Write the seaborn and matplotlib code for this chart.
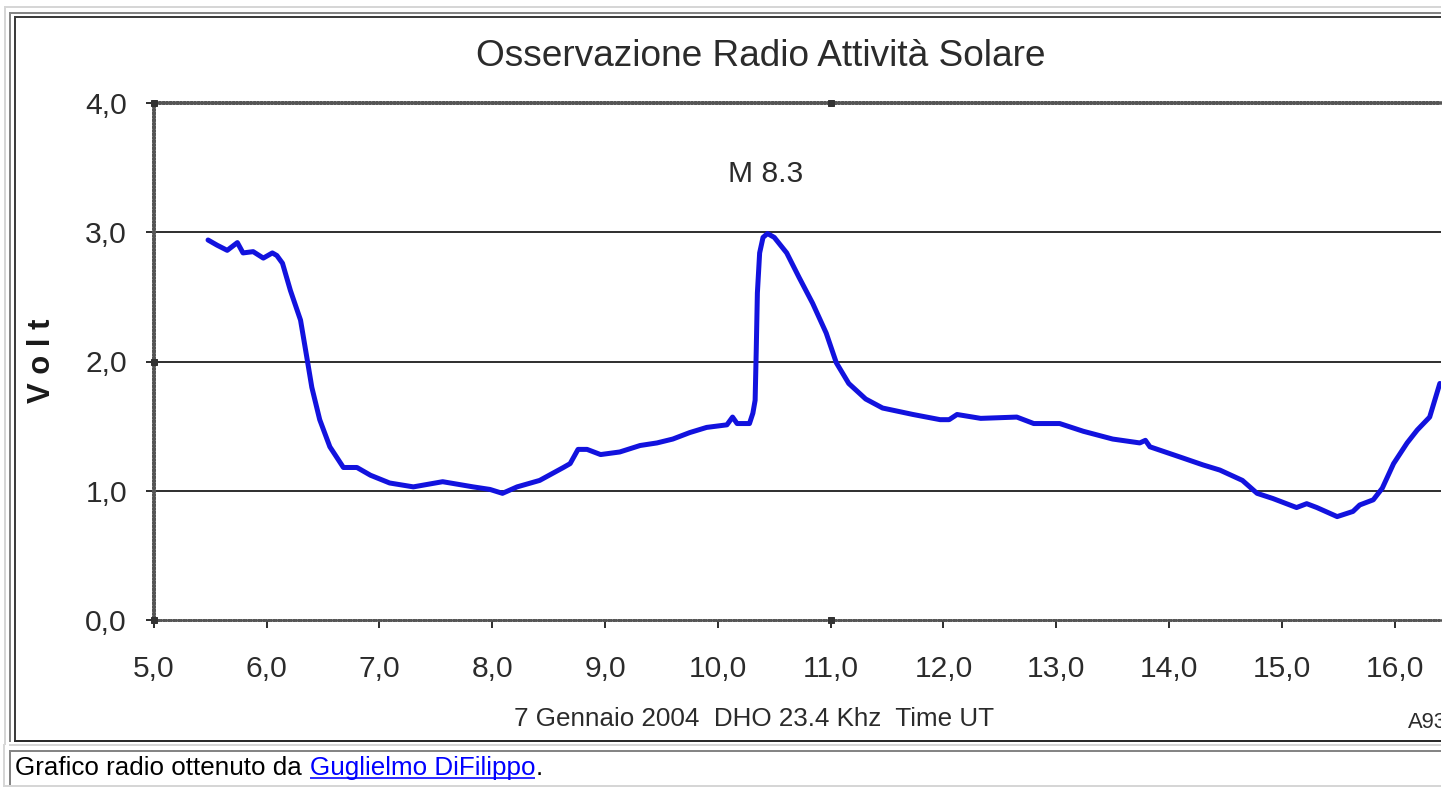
import matplotlib
matplotlib.use("Agg")
import pandas as pd
import seaborn as sns
from matplotlib import pyplot as plt
from matplotlib.ticker import FuncFormatter

# Ore UT e tensione (7 gennaio 2004, DHO 23.4 kHz)
hours = [5.48, 5.56, 5.65, 5.74, 5.79, 5.88, 5.97, 6.05, 6.09, 6.14,
         6.21, 6.30, 6.36, 6.40, 6.47, 6.56, 6.68, 6.80, 6.92, 7.09,
         7.30, 7.56, 7.83, 7.98, 8.09, 8.22, 8.42, 8.63, 8.69, 8.76,
         8.84, 8.96, 9.13, 9.31, 9.46, 9.60, 9.75, 9.90, 10.08, 10.13,
         10.17, 10.28, 10.31, 10.33, 10.34, 10.35, 10.37, 10.40, 10.44, 10.50,
         10.61, 10.72, 10.84, 10.96, 11.05, 11.16, 11.31, 11.46, 11.73, 11.97,
         12.05, 12.12, 12.33, 12.65, 12.80, 13.03, 13.24, 13.50, 13.74, 13.79,
         13.83, 14.10, 14.30, 14.45, 14.65, 14.78, 14.92, 15.13, 15.22, 15.31,
         15.49, 15.63, 15.69, 15.81, 15.89, 15.99, 16.11, 16.20, 16.31, 16.40]
volts = [2.94, 2.90, 2.86, 2.92, 2.84, 2.85, 2.80, 2.84, 2.82, 2.76,
         2.55, 2.32, 2.01, 1.80, 1.55, 1.34, 1.18, 1.18, 1.12, 1.06,
         1.03, 1.07, 1.03, 1.01, 0.98, 1.03, 1.08, 1.18, 1.21, 1.32,
         1.32, 1.28, 1.30, 1.35, 1.37, 1.40, 1.45, 1.49, 1.51, 1.57,
         1.52, 1.52, 1.60, 1.70, 2.09, 2.53, 2.84, 2.96, 2.99, 2.96,
         2.84, 2.65, 2.45, 2.22, 1.99, 1.83, 1.71, 1.64, 1.59, 1.55,
         1.55, 1.59, 1.56, 1.57, 1.52, 1.52, 1.46, 1.40, 1.37, 1.39,
         1.34, 1.26, 1.20, 1.16, 1.08, 0.98, 0.94, 0.87, 0.90, 0.87,
         0.80, 0.84, 0.89, 0.93, 1.02, 1.21, 1.37, 1.47, 1.57, 1.83]

x_ticks = [5.0, 6.0, 7.0, 8.0, 9.0, 10.0, 11.0, 12.0, 13.0, 14.0, 15.0, 16.0]
y_ticks = [0.0, 1.0, 2.0, 3.0, 4.0]
grid_levels = [1.0, 2.0, 3.0]
marker_x = [5.0, 11.0, 5.0, 5.0, 11.0]
marker_y = [4.0, 4.0, 2.0, 0.0, 0.0]
flare_label = "M 8.3"
flare_x, flare_y = 10.42, 3.45

title = "Osservazione Radio Attività Solare"
x_caption = "7 Gennaio 2004  DHO 23.4 Khz  Time UT"
page_text = "Grafico radio ottenuto da"
link_text = "Guglielmo DiFilippo"

df = pd.DataFrame({"Time UT": hours, "Volt": volts})

W, H, DPI = 1455, 787, 72
sns.set_theme(style="white")
plt.rcParams["font.family"] = ["Liberation Sans", "DejaVu Sans"]

fig = plt.figure(figsize=(W / DPI, H / DPI), dpi=DPI)
fig.patch.set_facecolor("white")

# cornice della pagina, coordinate in pixel (origine in alto a sinistra)
frame = fig.add_axes([0, 0, 1441 / W, 1], zorder=0)
frame.set_xlim(0, 1441)
frame.set_ylim(H, 0)
frame.axis("off")

def hline(y, x0, x1, c, lw=2):
    frame.plot([x0, x1], [y, y], color=c, lw=lw, solid_capstyle="butt")

def vline(x, y0, y1, c, lw=2):
    frame.plot([x, x], [y0, y1], color=c, lw=lw, solid_capstyle="butt")

hline(6.5, 4, 1441, "#d6d6d6")
vline(5, 6, 745, "#d6d6d6")
hline(12.5, 9, 1441, "#858585")
vline(10, 12, 742, "#858585")
hline(17, 14, 1441, "#3c3c3c")
vline(15, 17, 741, "#3c3c3c")
hline(740.5, 14, 1441, "#2a2a2a")
hline(744.5, 9, 1441, "#d6d6d6")
hline(751, 9, 1441, "#858585")
vline(10, 750, 786, "#858585")
vline(4, 744, 787, "#d6d6d6")
hline(786, 4, 1441, "#d6d6d6")

txt = "#2b2b2b"
frame.text(761, 56, title, ha="center", va="center", fontsize=37, color=txt)
frame.text(754, 719, x_caption, ha="center", va="center", fontsize=26, color=txt)
frame.text(1408, 728, "A93", ha="left", va="baseline", fontsize=22,
           color=txt, clip_on=True)
frame.text(42, 361, "V o l t", rotation=90, ha="center", va="center",
           fontsize=31, fontweight="bold", color="#1a1a1a")

# didascalia con link
cap = frame.text(15, 775, page_text, ha="left", va="baseline", fontsize=26, color="black")
renderer = fig.canvas.get_renderer()
inv = frame.transData.inverted()
x_link = inv.transform(cap.get_window_extent(renderer).get_points())[1][0] + 8
link = frame.text(x_link, 775, link_text, ha="left", va="baseline", fontsize=26, color="#0000ff")
x_end = inv.transform(link.get_window_extent(renderer).get_points())[1][0]
hline(778, x_link, x_end, "#0000ff", lw=1.6)
frame.text(x_end, 775, ".", ha="left", va="baseline", fontsize=26, color="black")

# grafico
left, right, top, bottom = 153.9, 1441, 103, 620
ax = fig.add_axes([left / W, (H - bottom) / H, (right - left) / W, (bottom - top) / H], zorder=1)
ax.set_facecolor("white")

for lvl in grid_levels:
    ax.axhline(lvl, color="black", lw=1.6, zorder=1)

sns.lineplot(data=df, x="Time UT", y="Volt", ax=ax, color="#1212de",
             linewidth=5, sort=False, estimator=None, zorder=3)

ax.plot(marker_x, marker_y, ls="none", marker="s", ms=6, color="#333333",
        clip_on=False, zorder=4)

ax.text(flare_x, flare_y, flare_label, ha="center", va="center", fontsize=30, color=txt)

ax.set_xlim(5.0, 5.0 + (right - left) / 112.8)
ax.set_ylim(0.0, 4.0)
ax.set_xticks(x_ticks)
ax.set_yticks(y_ticks)
fmt = FuncFormatter(lambda v, _: f"{v:.1f}".replace(".", ","))
ax.xaxis.set_major_formatter(fmt)
ax.yaxis.set_major_formatter(fmt)
ax.set_xlabel("")
ax.set_ylabel("")

ax.tick_params(axis="x", bottom=True, direction="out", length=8, width=1.6,
               color="black", pad=27, labelsize=30, labelcolor=txt)
ax.tick_params(axis="y", left=True, direction="out", length=8, width=1.6,
               color="black", pad=19, labelsize=30, labelcolor=txt)

ax.spines["right"].set_visible(False)
for side, lw in [("left", 3.5), ("top", 3.5), ("bottom", 2.5)]:
    sp = ax.spines[side]
    sp.set_visible(True)
    sp.set_color("#555555")
    sp.set_linewidth(lw)
    sp.set_linestyle((0, (0.5, 0.5)))
    sp.set_zorder(2.5)

plt.savefig("out.png", dpi=DPI, facecolor="white")
